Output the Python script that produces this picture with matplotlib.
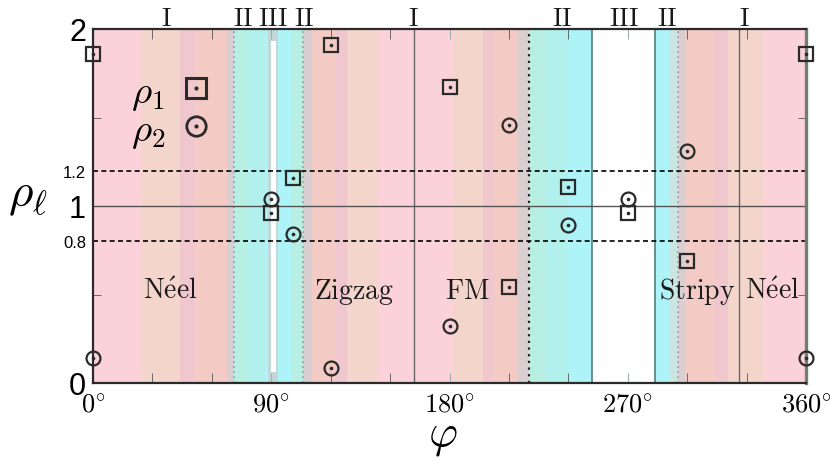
import matplotlib
matplotlib.use('Agg')
import matplotlib.pyplot as plt
from matplotlib.lines import Line2D

plt.rcParams['mathtext.fontset'] = 'cm'
plt.rcParams['font.family'] = ['Liberation Sans', 'DejaVu Sans']

# data
phi = [0, 90, 101, 120, 180, 210, 240, 270, 300, 360]
rho1 = [1.86, 0.96, 1.16, 1.91, 1.67, 0.54, 1.11, 0.96, 0.69, 1.86]
rho2 = [0.14, 1.04, 0.84, 0.085, 0.32, 1.46, 0.89, 1.04, 1.31, 0.14]

# background bands (phase diagram strip)
band_edges = [0, 24.7, 44, 51.5, 67.7, 71, 78, 87, 88.5, 93.5, 100, 106, 110.6,
              122.7, 128.3, 144, 181.8, 197, 202, 214, 220, 228, 240, 252, 284,
              291.4, 295.5, 299, 314, 320.7, 338.4, 360]
band_kinds = ['pink', 'peach', 'mauve', 'salmon', 'grey', 'mint', 'lcyan', 'cyan',
              'gcyan', 'cyan', 'mint', 'grey', 'salmon', 'mauve', 'peach', 'pink',
              'peach', 'mauve', 'salmon', 'grey', 'mint', 'lcyan', 'cyan', 'white',
              'cyan', 'gmint', 'grey', 'salmon', 'mauve', 'peach', 'pink']
palette = {'pink': '#fbd1da', 'peach': '#f4d5cb', 'mauve': '#f0c7cf',
           'salmon': '#f3cac4', 'grey': '#dacfd0', 'mint': '#b8efe3',
           'lcyan': '#b2f0ee', 'cyan': '#aef3f8', 'gcyan': '#c2d8d8',
           'gmint': '#c9e6e2', 'white': '#ffffff'}

region_labels = ['I', 'II', 'III', 'II', 'I', 'II', 'III', 'II', 'I']
region_pos = [37, 76, 91, 106.5, 162, 237, 268, 290, 329]

phase_names = ['N\\acute{e}el', 'Zigzag', 'FM', 'Stripy', 'N\\acute{e}el']
phase_pos = [39, 132, 189, 305, 343]

fig = plt.figure(figsize=(8.3, 4.64), dpi=100)
ax = fig.add_axes([93 / 830, 1 - 384 / 464, 713 / 830, 354 / 464])

for a, b, k in zip(band_edges[:-1], band_edges[1:], band_kinds):
    ax.axvspan(a, b, color=palette[k], lw=0, zorder=0)
# narrow white strip inside region III near 90 deg
ax.fill_between([89.8, 92.4], 0.06, 1.93, color='white', lw=0, zorder=0.5)

# phase boundaries
ax.axvline(71, color='#9a9a9a', ls=(0, (1, 2)), lw=1.2, zorder=1)
ax.axvline(106, color='#9a9a9a', ls=(0, (1, 2)), lw=1.2, zorder=1)
ax.axvline(295.5, color='#9a9a9a', ls=(0, (1, 2)), lw=1.2, zorder=1)
ax.axvline(220, color='#222222', ls=(0, (1, 2)), lw=1.6, zorder=1)
ax.axvline(162, color='#666666', lw=1.0, zorder=1)
ax.axvline(326, color='#666666', lw=1.0, zorder=1)
ax.axvline(252, color='#4f7f80', lw=1.2, zorder=1)
ax.axvline(284, color='#4f7f80', lw=1.2, zorder=1)

ax.axhline(1.0, color='#555555', lw=1.0, zorder=1)
ax.axhline(1.2, color='black', ls=(0, (3, 2)), lw=1.2, zorder=1)
ax.axhline(0.8, color='black', ls=(0, (3, 2)), lw=1.2, zorder=1)

mc = '#2a2a2a'
ax.plot(phi, rho1, 's', mfc='none', mec=mc, ms=10, mew=1.6, clip_on=False, zorder=3)
ax.plot(phi, rho1, 'o', color=mc, ms=1.6, clip_on=False, zorder=3)
ax.plot(phi, rho2, 'o', mfc='none', mec=mc, ms=10, mew=1.6, clip_on=False, zorder=3)
ax.plot(phi, rho2, 'o', color=mc, ms=1.6, clip_on=False, zorder=3)

# legend
h1 = (Line2D([], [], ls='none', marker='s', mfc='none', mec=mc, ms=15, mew=2.2),
      Line2D([], [], ls='none', marker='o', color=mc, ms=2))
h2 = (Line2D([], [], ls='none', marker='o', mfc='none', mec=mc, ms=14, mew=2.0),
      Line2D([], [], ls='none', marker='o', color=mc, ms=2))
ax.legend([h1, h2], [r'$\rho_1$', r'$\rho_2$'], markerfirst=False, frameon=False,
          loc='upper left', bbox_to_anchor=(0.02, 0.94), fontsize=28,
          handlelength=0.8, handletextpad=0.4, labelspacing=0.0, borderpad=0.1)

for name, x in zip(phase_names, phase_pos):
    ax.text(x, 0.52, r'$\mathrm{' + name + '}$', ha='center', va='center',
            fontsize=20, color='#1a1a1a', zorder=4)

for lab, x in zip(region_labels, region_pos):
    ax.text(x, 2.025, r'$\mathrm{' + lab + '}$', ha='center', va='baseline',
            fontsize=19, color='#1a1a1a', clip_on=False)

ax.set_xlim(0, 360)
ax.set_ylim(0, 2)

ax.set_xticks([0, 90, 180, 270, 360])
ax.set_xticklabels([r'$0^{\circ}$', r'$90^{\circ}$', r'$180^{\circ}$',
                    r'$270^{\circ}$', r'$360^{\circ}$'], fontsize=19)
ax.set_xticks([30, 60, 120, 150, 210, 240, 300, 330], minor=True)
ax.set_yticks([0, 0.8, 1, 1.2, 2])
ax.set_yticklabels(['0', '0.8', '1', '1.2', '2'])
for t in ax.get_yticklabels():
    t.set_fontsize(12 if '.' in t.get_text() else 22)
ax.set_yticks([0.5, 1.5], minor=True)

ax.tick_params(which='both', direction='in', top=True, right=True)
ax.tick_params(axis='x', which='major', length=7, color='#a0b0b0', pad=7)
ax.tick_params(axis='x', which='minor', length=7, color='#555555')
ax.tick_params(axis='y', which='major', length=0, pad=5)
ax.tick_params(axis='y', which='minor', length=6, color='#555555')

for s in ['left', 'bottom', 'top']:
    ax.spines[s].set_color('#2a2a2a')
    ax.spines[s].set_linewidth(1.6)
ax.spines['right'].set_color('#6f806f')
ax.spines['right'].set_linewidth(2.4)

ax.set_ylabel(r'$\rho_\ell$', fontsize=34, rotation=0, va='center', ha='center')
ax.yaxis.set_label_coords(-0.092, 0.53)
ax.set_xlabel(r'$\varphi$', fontsize=32, va='center')
ax.xaxis.set_label_coords(0.49, -0.15)

fig.savefig('out.png', dpi=100)
